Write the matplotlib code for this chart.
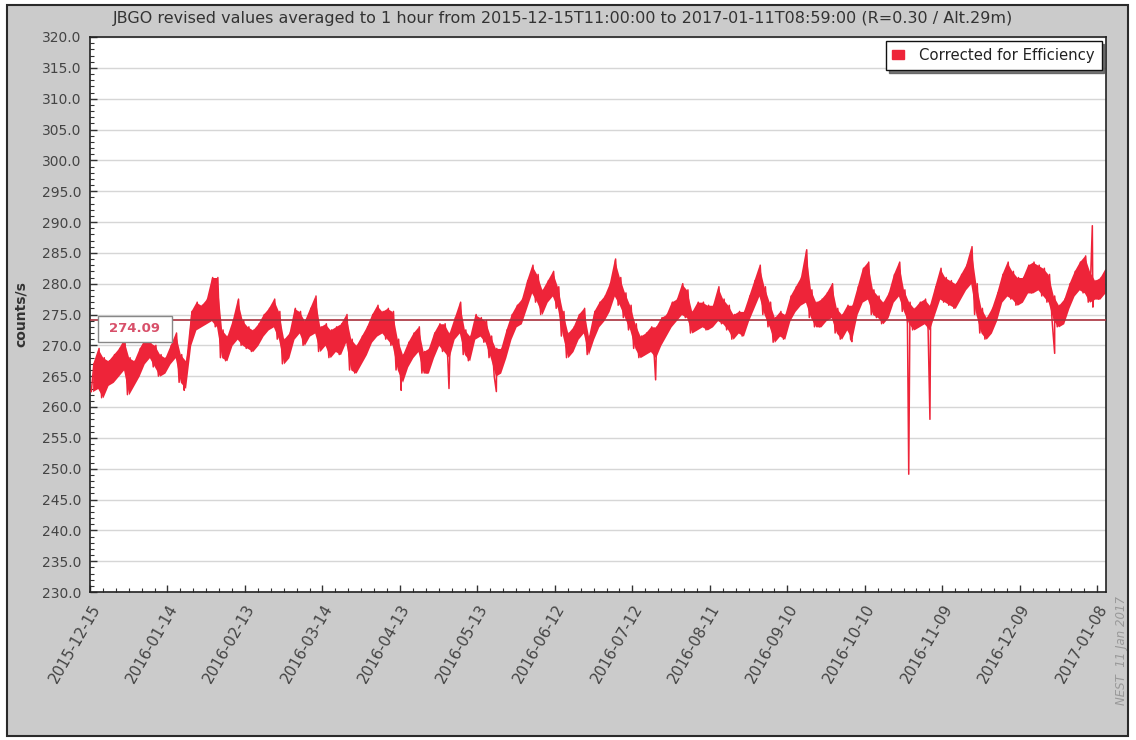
import numpy as np
import pandas as pd
import matplotlib
matplotlib.use("Agg")
import matplotlib.pyplot as plt
import matplotlib.transforms as mtransforms
from matplotlib.patches import Rectangle, Patch

# Chart text
title = ("JBGO revised values averaged to 1 hour from 2015-12-15T11:00:00 "
         "to 2017-01-11T08:59:00 (R=0.30 / Alt.29m)")
series_name = "Corrected for Efficiency"
y_label = "counts/s"
mean_value = 274.09
stamp = "NEST  11 Jan 2017"

# x tick labels (every 30 days)
tick_dates = ["2015-12-15", "2016-01-14", "2016-02-13", "2016-03-14", "2016-04-13",
              "2016-05-13", "2016-06-12", "2016-07-12", "2016-08-11", "2016-09-10",
              "2016-10-10", "2016-11-09", "2016-12-09", "2017-01-08"]

bin_dates = pd.date_range("2015-12-15", periods=197, freq="2D")
band_low = [
    262.5, 263, 261.5, 263.5, 264, 265, 266, 262, 263.5, 265,
    267, 268, 266.5, 265, 265.5, 267, 268, 264, 263, 270,
    272.5, 273, 273.5, 274, 273, 268, 267.5, 270, 271, 270,
    269.5, 269, 270, 271.5, 272.5, 273, 271, 267, 268, 271,
    272, 270, 271.5, 272, 269, 270, 268, 269, 268.5, 270.5,
    266, 265.5, 267, 268.5, 270.5, 271.5, 272, 271, 270, 266,
    264, 266.5, 268, 269, 265.5, 265.5, 268, 270, 269, 268,
    271, 272, 268.5, 267.5, 271, 271.5, 270.5, 268, 265, 265.5,
    268, 271, 273, 273.5, 276, 278.5, 277, 275, 277, 278,
    276, 271.5, 268, 269, 271, 272, 268.5, 271, 273, 274,
    275.5, 278, 276.5, 274.5, 272.5, 269.5, 268, 268.5, 269, 268,
    270, 271.5, 273, 274, 275, 274.5, 272, 272.5, 273, 272.5,
    273, 274, 273.5, 272.5, 271, 272, 271.5, 274, 276, 278,
    275, 273, 270.5, 271.5, 271, 274, 275.5, 276.5, 277, 274.5,
    273, 273, 274, 274.5, 272, 271, 272.5, 271, 275, 277,
    277.5, 275, 274.5, 273.5, 274.5, 277, 278, 275.5, 273.5, 272.5,
    273, 273.5, 272.5, 275, 277.5, 277, 276.5, 276, 277.5, 279,
    280, 275, 272, 271, 272, 274, 277, 278, 277.5, 276.5,
    277, 278.5, 278.5, 279, 278, 277, 274, 273, 273.5, 276,
    278, 279, 278.5, 277, 277.5, 277.5, 278.5,
]
band_high = [
    267, 269.5, 268, 267.5, 268.5, 269.5, 271, 268, 267.5, 269.5,
    271, 270.5, 270, 268.5, 268, 270, 272, 268.5, 267.5, 275.5,
    277, 276.5, 277.5, 281, 281, 272.5, 271.5, 274, 277.5, 274,
    273, 272.5, 273.5, 275, 276, 277.5, 275.5, 271, 272, 276,
    275.5, 274, 276, 278, 273, 273.5, 272.5, 273, 273.5, 275,
    271, 270, 271.5, 273, 275, 276.5, 275.5, 276, 275.5, 271,
    268.5, 270.5, 272, 273, 269, 269.5, 272, 273.5, 273.5, 272,
    274.5, 277, 272.5, 271.5, 275, 274.5, 274, 271.5, 269.5, 269.5,
    272.5, 275, 276.5, 277.5, 280.5, 283, 281.5, 279, 280.5, 282,
    279.5, 275.5, 272, 273, 275, 276, 271.5, 275.5, 277, 278,
    280, 284, 281, 278.5, 276.5, 273.5, 271.5, 272, 273, 273,
    274.5, 275, 277, 277.5, 280, 279, 275.5, 277, 277, 276.5,
    276.5, 279.5, 277.5, 276.5, 275, 275.5, 275.5, 278, 280.5, 283,
    279.5, 277, 274.5, 275.5, 275, 278, 279.5, 281, 285.5, 279,
    277, 277.5, 278.5, 280, 276, 275, 276.5, 276.5, 279.5, 282.5,
    283.5, 279, 278, 277, 278.5, 281.5, 283.5, 279, 277, 276,
    277, 277.5, 276.5, 279.5, 282.5, 281, 280.5, 280, 281.5, 283,
    286, 280, 276, 274.5, 276, 278.5, 281.5, 283.5, 282, 281,
    281, 283, 283.5, 283, 282.5, 281.5, 278, 276.5, 277.5, 280,
    282, 283.5, 284.5, 282, 280.5, 281, 282.5,
]

# single-hour outliers
spike_times = ["2016-01-20 12:00", "2016-04-13 12:00", "2016-05-02 00:00",
               "2016-05-20 08:00", "2016-07-21 00:00", "2016-10-05 00:00",
               "2016-10-27 00:00", "2016-11-04 05:00", "2016-12-22 12:00",
               "2017-01-06 02:00", "2017-01-06 07:00"]
spike_values = [262.7, 262.7, 263.0, 262.5, 264.4, 270.6,
                249.1, 258.0, 268.7, 289.4, 276.2]

start = pd.Timestamp("2015-12-15 11:00")
end = pd.Timestamp("2017-01-11 08:59")

# zig-zag series (low then high inside each bin) merged with the outliers
t_low = bin_dates + pd.Timedelta(hours=12)
t_high = bin_dates + pd.Timedelta(hours=36)
times = np.concatenate([t_low.values, t_high.values, pd.to_datetime(spike_times).values])
vals = np.concatenate([band_low, band_high, spike_values])
order = np.argsort(times)
series = pd.Series(vals[order], index=pd.to_datetime(times[order]))
series = series[(series.index >= start) & (series.index <= end)]

plt.rcParams['font.family'] = ['DejaVu Sans']

fig = plt.figure(figsize=(11.36, 7.40), dpi=100)
fig.patch.set_facecolor("white")
# grey chart panel with dark border
fig.patches.append(Rectangle((7 / 1136, 4 / 740), 1121 / 1136, 731 / 740,
                             transform=fig.transFigure, facecolor="#cbcbcb",
                             edgecolor="#2a2a2a", linewidth=1.5, zorder=-10))

ax = fig.add_axes([90 / 1136, 148 / 740, 1016 / 1136, 555 / 740])
ax.set_facecolor("white")

red = "#ee2439"
mid = bin_dates + pd.Timedelta(days=1)
keep = (mid >= start) & (mid <= end)
ax.fill_between(mid[keep], np.array(band_low)[keep], np.array(band_high)[keep],
                color=red, linewidth=0, zorder=2)
ax.plot(series.index, series.values, color=red, linewidth=1.1, zorder=3)
ax.axhline(mean_value, color="#a8303c", linewidth=1.2, zorder=4)

x0 = pd.Timestamp("2015-12-15 00:00")
x1 = pd.Timestamp("2017-01-11 09:00")
ax.set_xlim(x0, x1)
ax.set_ylim(230, 320)

# y axis
ax.set_yticks(np.arange(230, 320.1, 5))
ax.set_yticks(np.arange(230, 320.1, 1), minor=True)
ax.yaxis.set_major_formatter(matplotlib.ticker.FormatStrFormatter("%.1f"))
ax.grid(axis="y", which="major", color="#d6d6d6", linewidth=1.0, zorder=0)

# x axis
major = pd.to_datetime(tick_dates)
ax.set_xticks(major)
ax.set_xticklabels(tick_dates, rotation=60, ha="right", rotation_mode="anchor",
                   fontsize=11)
minor = pd.date_range(x0, x1, freq="5D")
ax.set_xticks(minor, minor=True)
shift = mtransforms.ScaledTranslation(-7 / 100, 0, fig.dpi_scale_trans)
for lab in ax.get_xticklabels():
    lab.set_transform(lab.get_transform() + shift)

ax.tick_params(axis="both", which="major", direction="in", length=5, width=1,
               colors="#333333", labelcolor="#444444")
ax.tick_params(axis="y", which="major", labelsize=10, pad=6)
ax.tick_params(axis="x", which="major", pad=7)
ax.tick_params(axis="both", which="minor", direction="in", length=3, width=0.8,
               colors="#333333")

for side in ["left", "bottom", "top", "right"]:
    ax.spines[side].set_color("#222222")
    ax.spines[side].set_linewidth(1.2)

ax.set_ylabel(y_label, fontsize=10, fontweight="bold", color="#333333", labelpad=10)

# mean value label box
ax.add_patch(Rectangle((8 / 1016, 250 / 555), 74 / 1016, 26 / 555,
                       transform=ax.transAxes, facecolor="white",
                       edgecolor="#888888", linewidth=1.0, zorder=5))
ax.text(45 / 1016, 263 / 555, f"{mean_value:.2f}", transform=ax.transAxes,
        ha="center", va="center", fontsize=9.5, fontweight="bold",
        color="#d8506a", zorder=6)

# legend
leg = ax.legend(handles=[Patch(facecolor=red, edgecolor=red, label=series_name)],
                loc="upper right", fontsize=10.7, frameon=True, fancybox=False,
                shadow={"color": "#555555", "alpha": 0.8}, borderaxespad=0.3,
                handlelength=0.8, handleheight=0.55,
                handletextpad=1.0, borderpad=0.45)
leg.get_frame().set_edgecolor("#111111")
leg.get_frame().set_linewidth(1.0)
for t in leg.get_texts():
    t.set_color("#222222")

fig.text(0.496, 1 - 18 / 740, title, ha="center", va="center",
         fontsize=11.5, color="#333333")
fig.text(1122 / 1136, 35 / 740, stamp, rotation=90, ha="center", va="bottom",
         fontsize=8.5, style="italic", color="#999999")

fig.savefig("out.png", dpi=100, facecolor=fig.get_facecolor())
